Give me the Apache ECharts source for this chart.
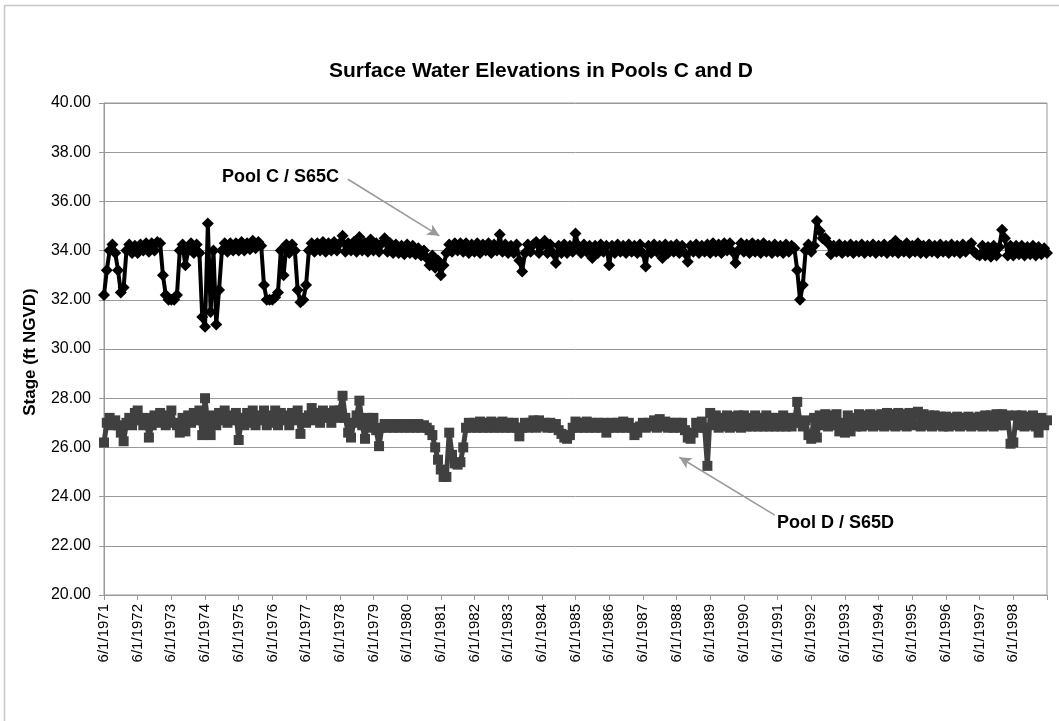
<!DOCTYPE html>
<html>
<head>
<meta charset="utf-8">
<script src="https://cdn.jsdelivr.net/npm/echarts@6/dist/echarts.min.js"></script>
<style>
html,body{margin:0;padding:0;background:#fff;}
#chart{width:1059px;height:721px;}
</style>
</head>
<body>
<div id="chart"></div>
<script>
// X tick labels (one per year, every 12 monthly samples, starting 6/1/1971)
const TICK_LABELS = ['6/1/1971','6/1/1972','6/1/1973','6/1/1974','6/1/1975','6/1/1976','6/1/1977',
  '6/1/1978','6/1/1979','6/1/1980','6/1/1981','6/1/1982','6/1/1983','6/1/1984','6/1/1985',
  '6/1/1986','6/1/1987','6/1/1988','6/1/1989','6/1/1990','6/1/1991','6/1/1992','6/1/1993',
  '6/1/1994','6/1/1995','6/1/1996','6/1/1997','6/1/1998'];

// Monthly stage values (ft NGVD), June 1971 .. June 1999
const POOL_C = [
  32.2,33.2,34.0,34.25,33.9,33.2,32.3,32.5,34.0,34.25,33.9,34.2,
  33.9,34.25,34.0,34.3,33.95,34.3,34.0,34.35,34.3,33.0,32.2,32.0,
  32.0,32.0,32.2,34.0,34.25,33.4,34.0,34.3,33.9,34.25,33.9,31.3,
  30.9,35.1,31.5,34.0,31.0,32.4,34.0,34.3,33.95,34.3,34.0,34.3,
  34.0,34.35,34.0,34.3,34.05,34.4,34.1,34.35,34.2,32.6,32.0,32.0,
  32.0,32.1,32.3,34.0,33.0,34.25,33.9,34.25,34.0,32.4,31.9,32.0,
  32.6,34.0,34.3,33.95,34.3,34.0,34.35,33.95,34.3,34.0,34.35,34.0,
  34.3,34.6,33.95,34.3,34.0,34.35,33.95,34.55,34.0,34.3,33.95,34.45,
  34.0,34.3,33.95,34.3,34.5,33.95,34.3,33.9,34.25,33.9,34.2,33.85,
  34.25,33.9,34.2,33.85,34.1,33.8,34.0,33.7,33.4,33.8,33.3,33.6,
  33.0,33.4,33.9,34.25,33.95,34.3,34.0,34.3,33.95,34.3,33.9,34.25,
  33.95,34.3,33.9,34.25,34.0,34.3,33.9,34.25,34.0,34.65,33.95,34.25,
  33.9,34.2,33.9,34.25,33.6,33.15,33.9,34.25,33.95,34.25,34.35,33.9,
  34.2,34.4,33.9,34.25,33.9,33.5,34.2,33.9,34.25,33.9,34.2,33.95,
  34.7,34.2,33.9,34.25,33.95,34.2,33.7,34.2,33.9,34.25,33.95,34.2,
  33.4,34.2,33.9,34.25,33.95,34.2,33.9,34.25,33.95,34.2,33.9,34.25,
  33.9,33.35,34.2,33.9,34.25,33.95,34.2,33.7,34.25,33.9,34.2,33.95,
  34.25,33.9,34.2,33.9,33.55,34.2,33.95,34.25,33.9,34.2,33.95,34.25,
  33.9,34.3,33.95,34.25,33.9,34.3,34.0,34.3,33.95,33.5,34.0,34.3,
  33.95,34.25,33.9,34.3,33.95,34.25,33.9,34.3,33.95,34.2,33.9,34.25,
  33.95,34.2,33.9,34.25,33.95,34.2,34.1,33.2,32.0,32.6,34.0,34.25,
  33.95,34.2,35.2,34.8,34.5,34.5,34.3,33.85,34.2,33.95,34.25,33.9,
  34.2,33.95,34.25,33.9,34.2,33.95,34.25,33.9,34.2,33.95,34.25,33.9,
  34.2,33.95,34.25,33.9,34.2,33.95,34.4,33.9,34.2,33.95,34.3,33.9,
  34.2,33.95,34.3,33.9,34.2,33.9,34.25,33.95,34.2,33.9,34.25,33.95,
  34.2,33.9,34.25,33.95,34.2,33.9,34.25,33.95,34.2,34.3,33.95,33.85,
  33.8,34.2,33.8,34.15,33.75,34.2,33.8,34.15,34.85,34.5,33.8,34.2,
  33.8,34.2,33.85,34.2,33.8,34.15,33.85,34.2,33.8,34.15,33.85,34.1,33.9
];

const POOL_D = [
  26.2,27.0,27.2,26.9,27.1,26.9,26.6,26.25,27.0,27.2,26.9,27.4,
  27.5,27.1,26.9,27.2,26.4,26.9,27.3,27.0,27.4,27.1,26.9,27.3,
  27.5,27.0,26.9,26.6,27.2,26.65,27.3,27.0,27.4,27.1,27.5,26.5,
  28.0,26.9,26.5,27.3,26.9,27.4,27.1,27.5,27.0,27.3,27.1,27.4,
  26.3,27.2,26.9,27.4,27.0,27.5,26.9,27.3,27.1,27.5,26.9,27.3,
  27.0,27.5,26.9,27.4,27.1,27.3,26.9,27.4,27.1,27.5,26.55,27.2,
  27.0,27.3,27.6,27.1,27.4,27.0,27.5,27.2,27.4,27.0,27.5,27.2,
  27.5,28.1,27.2,26.6,26.4,27.0,27.3,27.9,26.9,26.35,27.2,26.8,
  27.2,26.7,26.05,26.8,26.95,26.8,26.95,26.8,26.95,26.8,26.95,26.8,
  26.95,26.8,26.95,26.8,26.95,26.8,26.9,26.8,26.7,26.5,26.0,25.5,
  25.1,24.8,24.8,26.6,25.7,25.35,25.3,25.4,26.0,26.8,27.0,26.8,
  27.0,26.8,27.05,26.8,27.0,26.8,27.05,26.8,27.0,26.8,27.05,26.8,
  27.0,26.8,27.0,26.8,26.45,26.8,27.0,26.8,27.0,27.1,26.8,27.1,
  26.85,27.0,26.8,27.0,26.8,26.95,26.7,26.55,26.4,26.35,26.5,26.8,
  27.05,26.8,27.0,26.8,27.05,26.8,27.0,26.8,27.0,26.8,27.0,26.6,
  26.8,27.0,26.8,27.0,26.8,27.05,26.8,27.0,26.8,26.5,26.6,26.85,
  27.0,26.8,27.0,26.85,27.1,26.8,27.15,26.85,27.05,26.8,27.0,26.8,
  27.0,26.8,27.0,26.7,26.4,26.35,26.6,27.0,26.8,27.05,26.8,25.25,
  27.4,26.9,27.3,26.8,27.2,26.85,27.3,26.8,27.25,26.85,27.3,26.8,
  27.3,26.85,27.2,26.85,27.3,26.85,27.2,26.85,27.3,26.85,27.2,26.85,
  27.2,26.85,27.3,26.85,27.2,26.85,27.0,27.85,27.0,26.85,27.1,26.5,
  26.35,27.2,26.4,27.3,26.9,27.35,26.85,27.3,26.9,27.35,26.65,27.0,
  26.6,27.3,26.65,27.2,26.85,27.35,26.85,27.3,26.9,27.35,26.85,27.3,
  26.9,27.35,26.85,27.4,26.9,27.35,26.85,27.4,26.9,27.35,26.85,27.4,
  26.9,27.3,27.45,26.85,27.35,26.9,27.3,26.85,27.3,26.9,27.25,26.85,
  27.25,26.85,27.2,26.9,27.25,26.85,27.2,26.9,27.25,26.85,27.2,26.9,
  27.25,26.85,27.3,26.9,27.3,26.85,27.35,26.9,27.35,26.9,27.3,26.15,
  26.2,27.3,26.9,27.3,26.85,27.25,26.9,27.3,26.85,26.6,27.2,26.9,27.1
];

const SERIES_NAMES = ['Pool C / S65C', 'Pool D / S65D'];
// Annotation arrows in data space: [monthIndex, stage]
const ARROW_C = [[86.9, 36.9], [119.5, 34.6]];
const ARROW_D = [[239, 23.25], [205, 25.6]];

const chart = echarts.init(document.getElementById('chart'), null, {renderer: 'canvas'});
const FONT = 'Liberation Sans, Arial, sans-serif';

const option = {
  animation: false,
  backgroundColor: '#fff',
  grid: {left: 104, right: 12, top: 103, bottom: 126, show: true, borderColor: '#999', borderWidth: 1, containLabel: false},
  xAxis: {
    type: 'value', min: 0, max: 336, interval: 12,
    axisLine: {show: true, lineStyle: {color: '#999', width: 1}},
    axisTick: {show: true, length: 5, lineStyle: {color: '#999'}},
    splitLine: {show: false},
    axisLabel: {
      rotate: 90, margin: 9, color: '#000', fontFamily: FONT, fontSize: 15,
      formatter: v => TICK_LABELS[Math.round(v / 12)] || ''
    }
  },
  yAxis: {
    type: 'value', min: 20, max: 40, interval: 2,
    axisLine: {show: true, lineStyle: {color: '#999', width: 1}},
    axisTick: {show: true, length: 5, inside: false, lineStyle: {color: '#999'}},
    splitLine: {show: true, lineStyle: {color: '#999', width: 1}},
    axisLabel: {margin: 13, color: '#000', fontFamily: FONT, fontSize: 16, formatter: v => v.toFixed(2)}
  },
  series: [
    {
      name: SERIES_NAMES[0], type: 'line', data: POOL_C.map((v, i) => [i, v]),
      symbol: 'diamond', symbolSize: 12, showSymbol: true, showAllSymbol: true,
      itemStyle: {color: '#000'}, lineStyle: {color: '#000', width: 4},
      z: 3,
      markLine: {
        silent: true, symbol: ['none', 'arrow'], symbolSize: [9, 12],
        lineStyle: {color: '#999', width: 1.5, type: 'solid'}, label: {show: false},
        data: [[{coord: ARROW_C[0]}, {coord: ARROW_C[1]}]]
      }
    },
    {
      name: SERIES_NAMES[1], type: 'line', data: POOL_D.map((v, i) => [i, v]),
      symbol: 'rect', symbolSize: 10, showSymbol: true, showAllSymbol: true,
      itemStyle: {color: '#404040'}, lineStyle: {color: '#404040', width: 5},
      z: 2,
      markLine: {
        silent: true, symbol: ['none', 'arrow'], symbolSize: [9, 12],
        lineStyle: {color: '#999', width: 1.5, type: 'solid'}, label: {show: false},
        data: [[{coord: ARROW_D[0]}, {coord: ARROW_D[1]}]]
      }
    }
  ],
  graphic: [
    {type: 'rect', z: -10, shape: {x: 4.5, y: 5.5, width: 1200, height: 900}, style: {fill: 'none', stroke: '#c8c8c8', lineWidth: 1.5}},
    {type: 'text', x: 541, y: 71, style: {text: 'Surface Water Elevations in Pools C and D', fontFamily: FONT, fontWeight: 'bold', fontSize: 21, fill: '#000', align: 'center', verticalAlign: 'middle'}},
    {type: 'text', x: 30, y: 352, rotation: Math.PI / 2, style: {text: 'Stage (ft NGVD)', fontFamily: FONT, fontWeight: 'bold', fontSize: 17, fill: '#000', align: 'center', verticalAlign: 'middle'}},
    {type: 'text', x: 222, y: 177, style: {text: SERIES_NAMES[0], fontFamily: FONT, fontWeight: 'bold', fontSize: 18, fill: '#000', align: 'left', verticalAlign: 'middle'}},
    {type: 'text', x: 777, y: 523, style: {text: SERIES_NAMES[1], fontFamily: FONT, fontWeight: 'bold', fontSize: 18, fill: '#000', align: 'left', verticalAlign: 'middle'}}
  ]
};
chart.setOption(option);
</script>
</body>
</html>
